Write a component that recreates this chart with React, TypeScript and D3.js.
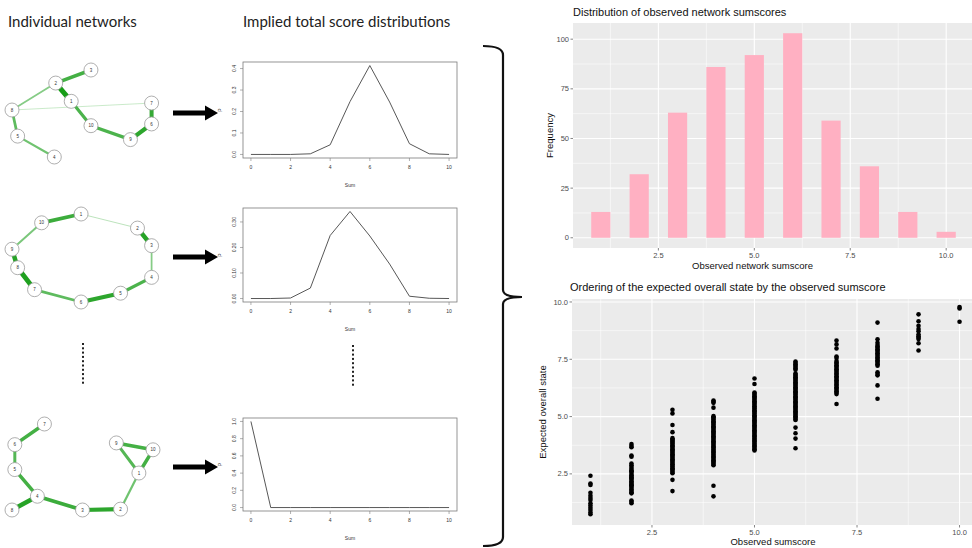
import React from 'react';
import * as d3 from 'd3';

// ---------- headings ----------
const headings = ['Individual networks', 'Implied total score distributions'];

// ---------- networks (layout units 0..100) ----------
const net1Nodes = [
  { id: 1, x: 42, y: 36 }, { id: 2, x: 31, y: 15 }, { id: 3, x: 56, y: 0 }, { id: 4, x: 30, y: 100 },
  { id: 5, x: 4, y: 76 }, { id: 6, x: 99, y: 62 }, { id: 7, x: 99, y: 38 }, { id: 8, x: 0, y: 46 },
  { id: 9, x: 84, y: 80 }, { id: 10, x: 56, y: 64 },
];
const net1Edges: [number, number, number][] = [
  [3, 2, 0.6], [2, 1, 0.9], [2, 8, 0.25], [8, 7, 0.06], [1, 10, 0.55],
  [10, 9, 0.55], [9, 6, 0.75], [6, 7, 0.7], [8, 5, 0.45], [5, 4, 0.35],
];
const net2Nodes = [
  { id: 1, x: 49, y: 0 }, { id: 2, x: 89, y: 16 }, { id: 3, x: 99, y: 36 }, { id: 4, x: 99, y: 72 },
  { id: 5, x: 77, y: 90 }, { id: 6, x: 49, y: 100 }, { id: 7, x: 16, y: 86 }, { id: 8, x: 4, y: 61 },
  { id: 9, x: 0, y: 40 }, { id: 10, x: 21, y: 10 },
];
const net2Edges: [number, number, number][] = [
  [1, 10, 0.65], [1, 2, 0.08], [2, 3, 0.8], [3, 4, 0.25], [4, 5, 0.55],
  [5, 6, 0.75], [6, 7, 0.45], [7, 8, 0.85], [8, 9, 0.8], [9, 10, 0.3],
];
const net3Nodes = [
  { id: 1, x: 90, y: 57 }, { id: 2, x: 77, y: 99 }, { id: 3, x: 50, y: 100 }, { id: 4, x: 18, y: 84 },
  { id: 5, x: 2, y: 53 }, { id: 6, x: 2, y: 24 }, { id: 7, x: 23, y: 0 }, { id: 8, x: 0, y: 100 },
  { id: 9, x: 74, y: 22 }, { id: 10, x: 100, y: 30 },
];
const net3Edges: [number, number, number][] = [
  [7, 6, 0.6], [6, 5, 0.5], [5, 4, 0.6], [4, 8, 0.8], [4, 3, 0.65],
  [3, 2, 0.75], [2, 1, 0.35], [1, 9, 0.5], [1, 10, 0.6], [9, 10, 0.6],
];

// ---------- implied total score distributions ----------
const sumValues = [0, 1, 2, 3, 4, 5, 6, 7, 8, 9, 10];
const dist1 = [0, 0, 0, 0.003, 0.045, 0.246, 0.414, 0.244, 0.05, 0.003, 0];
const dist2 = [0, 0, 0.002, 0.041, 0.247, 0.341, 0.245, 0.135, 0.009, 0.001, 0];
const dist3 = [1, 0, 0, 0, 0, 0, 0, 0, 0, 0, 0];
const sumTicks = [0, 2, 4, 6, 8, 10];
const dist1Ticks = [0, 0.1, 0.2, 0.3, 0.4];
const dist2Ticks = [0, 0.1, 0.2, 0.3];
const dist3Ticks = [0, 0.2, 0.4, 0.6, 0.8, 1.0];

// ---------- histogram ----------
const histTitle = 'Distribution of observed network sumscores';
const histX = [1, 2, 3, 4, 5, 6, 7, 8, 9, 10];
const histCounts = [13, 32, 63, 86, 92, 103, 59, 36, 13, 3];
const histYTicks = [0, 25, 50, 75, 100];
const ggXTicks = [2.5, 5.0, 7.5, 10.0];

// ---------- scatter ----------
const scatTitle = 'Ordering of the expected overall state by the observed sumscore';
const scatX = [1, 2, 3, 4, 5, 6, 7, 8, 9, 10];
const s1 = [2.42, 2.08, 2.02, 1.68, 1.55, 1.45, 1.36, 1.22, 1.12, 1.02, 0.92, 0.82, 0.74];
const s2 = [3.80, 3.72, 3.66, 3.30, 3.25, 2.95, 2.88, 2.80, 2.72, 2.65, 2.58, 2.50, 2.44, 2.38, 2.30, 2.24,
  2.18, 2.12, 2.06, 2.00, 1.94, 1.88, 1.82, 1.76, 1.70, 1.65, 1.34, 1.28, 1.22, 2.34, 2.62, 2.02];
const s3 = [5.30, 5.14, 4.63, 4.32, 4.06, 4.00, 3.95, 3.90, 3.85, 3.80, 3.74, 3.69, 3.63, 3.58, 3.52, 3.47,
  3.41, 3.36, 3.30, 3.25, 3.19, 3.14, 3.08, 3.03, 2.97, 2.92, 2.86, 2.81, 2.75, 2.70, 2.64, 2.58, 2.53, 2.24, 1.75];
const s4 = [5.70, 5.65, 5.60, 5.39, 5.02, 4.97, 4.91, 4.86, 4.80, 4.75, 4.69, 4.64, 4.58, 4.53, 4.47, 4.42,
  4.36, 4.31, 4.25, 4.20, 4.14, 4.09, 4.03, 3.98, 3.92, 3.87, 3.81, 3.76, 3.70, 3.65, 3.59, 3.54, 3.48, 3.43,
  3.37, 3.32, 3.26, 3.21, 3.15, 3.10, 3.04, 2.99, 2.93, 2.88, 1.98, 1.52];
const s5 = [6.66, 6.42, 6.05, 6.00, 5.94, 5.89, 5.83, 5.78, 5.72, 5.67, 5.61, 5.56, 5.50, 5.45, 5.39, 5.34,
  5.28, 5.23, 5.17, 5.12, 5.06, 5.01, 4.95, 4.90, 4.84, 4.79, 4.73, 4.68, 4.62, 4.57, 4.51, 4.46, 4.40, 4.35,
  4.29, 4.24, 4.18, 4.13, 4.07, 4.02, 3.96, 3.91, 3.85, 3.80, 3.74, 3.69, 3.63, 3.58, 3.52];
const s6 = [7.40, 7.34, 7.28, 7.22, 7.16, 7.10, 7.04, 6.88, 6.83, 6.77, 6.72, 6.66, 6.61, 6.55, 6.50, 6.44,
  6.39, 6.33, 6.28, 6.22, 6.17, 6.11, 6.06, 6.00, 5.95, 5.89, 5.84, 5.78, 5.73, 5.67, 5.62, 5.56, 5.51, 5.45,
  5.40, 5.34, 5.29, 5.23, 5.18, 5.12, 5.07, 5.01, 4.96, 4.90, 4.85, 4.52, 4.27, 4.04, 3.62];
const s7 = [8.32, 8.15, 7.97, 7.62, 7.56, 7.42, 7.36, 7.30, 7.24, 7.18, 7.12, 7.06, 7.00, 6.94, 6.88, 6.82,
  6.76, 6.70, 6.64, 6.58, 6.52, 6.46, 6.40, 6.34, 6.28, 6.22, 6.16, 6.10, 6.04, 5.98, 5.55];
const s8 = [9.10, 8.37, 8.22, 8.12, 8.06, 8.00, 7.94, 7.88, 7.82, 7.76, 7.70, 7.64, 7.58, 7.52, 7.46, 7.40,
  7.34, 7.28, 7.22, 6.93, 6.86, 6.80, 6.36, 5.78];
const s9 = [9.46, 9.16, 8.96, 8.82, 8.72, 8.58, 8.50, 8.44, 8.38, 8.20, 7.88];
const s10 = [9.78, 9.72, 9.14];
const scatY = [s1, s2, s3, s4, s5, s6, s7, s8, s9, s10];
const scatYTicks = [2.5, 5.0, 7.5, 10.0];

// ---------- layout ----------
const W = 972, H = 548;
const GG_FONT = '"Liberation Sans", Arial, sans-serif';
const netRows = [[70, 157], [214, 302], [424, 510]];
const plotRows = [[62, 158], [208, 302], [418, 511]];
const arrowY = [113, 257, 467];

type NodeT = { id: number; x: number; y: number };

function Network({ nodes, edges, top, bottom }: { nodes: NodeT[]; edges: [number, number, number][]; top: number; bottom: number }) {
  const x = d3.scaleLinear().domain([0, 100]).range([12, 153]);
  const y = d3.scaleLinear().domain([0, 100]).range([top, bottom]);
  const wScale = d3.scaleLinear().domain([0, 1]).range([0.5, 5.5]);
  const col = (w: number) => d3.interpolateRgb('#e4f5e4', '#0b970b')(Math.pow(w, 0.6));
  const byId = new Map(nodes.map((n) => [n.id, n]));
  return (
    <g>
      {edges.map(([a, b, w], i) => {
        const na = byId.get(a)!, nb = byId.get(b)!;
        return <line key={i} x1={x(na.x)} y1={y(na.y)} x2={x(nb.x)} y2={y(nb.y)} stroke={col(w)} strokeWidth={wScale(w)} strokeLinecap="round" />;
      })}
      {nodes.map((n) => (
        <g key={n.id}>
          <circle cx={x(n.x)} cy={y(n.y)} r={7} fill="#fff" stroke="#9a9a9a" strokeWidth={0.8} />
          <text x={x(n.x)} y={y(n.y) + 1.6} textAnchor="middle" fontSize={4.5} fontFamily={GG_FONT} fill="#333">{n.id}</text>
        </g>
      ))}
    </g>
  );
}

function LinePlot({ top, bottom, vals, ticks, fmt }: { top: number; bottom: number; vals: number[]; ticks: number[]; fmt: string }) {
  const left = 243, right = 457;
  const ymax = d3.max(vals)!;
  const pad = ymax * 0.04;
  const x = d3.scaleLinear().domain([-0.4, 10.4]).range([left, right]);
  const y = d3.scaleLinear().domain([-pad, ymax + pad]).range([bottom, top]);
  const line = d3.line<number>().x((_, i) => x(sumValues[i])).y((d) => y(d));
  const f = d3.format(fmt);
  return (
    <g fontFamily={GG_FONT} fill="#333">
      <rect x={left} y={top} width={right - left} height={bottom - top} fill="none" stroke="#7a7a7a" strokeWidth={0.8} />
      <path d={line(vals)!} fill="none" stroke="#444" strokeWidth={0.9} />
      {ticks.map((t) => (
        <g key={t}>
          <line x1={left} x2={left - 3} y1={y(t)} y2={y(t)} stroke="#7a7a7a" strokeWidth={0.6} />
          <text transform={`translate(${left - 7},${y(t)}) rotate(-90)`} textAnchor="middle" fontSize={5}>{f(t)}</text>
        </g>
      ))}
      {sumTicks.map((t) => (
        <g key={t}>
          <line x1={x(t)} x2={x(t)} y1={bottom} y2={bottom + 3} stroke="#7a7a7a" strokeWidth={0.6} />
          <text x={x(t)} y={bottom + 11} textAnchor="middle" fontSize={5}>{t}</text>
        </g>
      ))}
      <text transform={`translate(${left - 21},${(top + bottom) / 2}) rotate(-90)`} textAnchor="middle" fontSize={5}>P</text>
      <text x={(left + right) / 2} y={bottom + 29} textAnchor="middle" fontSize={5}>Sum</text>
    </g>
  );
}

function Arrow({ y }: { y: number }) {
  const p = d3.path();
  const x0 = 173, x1 = 205, x2 = 218, hs = 2.6, hh = 7.5;
  p.moveTo(x0, y - hs); p.lineTo(x1, y - hs); p.lineTo(x1, y - hh); p.lineTo(x2, y);
  p.lineTo(x1, y + hh); p.lineTo(x1, y + hs); p.lineTo(x0, y + hs); p.closePath();
  return <path d={p.toString()} fill="#000" />;
}

function Dots({ x, y0 }: { x: number; y0: number }) {
  const idx = d3.range(10);
  return <g>{idx.map((i) => <rect key={i} x={x - 1} y={y0 + i * 4.3} width={2} height={2} fill="#222" />)}</g>;
}

function Brace() {
  const lx = 483, bx = 503, tip = 522, top = 46, mid = 297, bot = 546;
  const p = d3.path();
  p.moveTo(lx, top);
  p.quadraticCurveTo(bx, top, bx, top + 9);
  p.lineTo(bx, mid - 7);
  p.quadraticCurveTo(bx, mid, tip, mid);
  p.quadraticCurveTo(bx, mid, bx, mid + 7);
  p.lineTo(bx, bot - 9);
  p.quadraticCurveTo(bx, bot, lx, bot);
  return <path d={p.toString()} fill="none" stroke="#111" strokeWidth={2.2} />;
}

function GGPanel({ left, right, top, bottom, x, y, xTicks, yTicks, yFmt }: any) {
  const xMinor = d3.pairs([x.domain()[0], ...xTicks, x.domain()[1]]).map(([a, b]) => (a + b) / 2);
  const yMinor = d3.pairs([y.domain()[0], ...yTicks, y.domain()[1]]).map(([a, b]) => (a + b) / 2);
  const step = xTicks[1] - xTicks[0];
  const xm = [xTicks[0] - step / 2, ...xTicks.map((t: number) => t + step / 2)].filter((v: number) => v > x.domain()[0] && v < x.domain()[1]);
  const ystep = yTicks[1] - yTicks[0];
  const ym = [yTicks[0] - ystep / 2, ...yTicks.map((t: number) => t + ystep / 2)].filter((v: number) => v > y.domain()[0] && v < y.domain()[1]);
  void xMinor; void yMinor;
  return (
    <g>
      <rect x={left} y={top} width={right - left} height={bottom - top} fill="#EBEBEB" />
      {xm.map((t: number) => <line key={'xm' + t} x1={x(t)} x2={x(t)} y1={top} y2={bottom} stroke="#fff" strokeWidth={0.55} />)}
      {ym.map((t: number) => <line key={'ym' + t} y1={y(t)} y2={y(t)} x1={left} x2={right} stroke="#fff" strokeWidth={0.55} />)}
      {xTicks.map((t: number) => <line key={'x' + t} x1={x(t)} x2={x(t)} y1={top} y2={bottom} stroke="#fff" strokeWidth={1.1} />)}
      {yTicks.map((t: number) => <line key={'y' + t} y1={y(t)} y2={y(t)} x1={left} x2={right} stroke="#fff" strokeWidth={1.1} />)}
      {xTicks.map((t: number) => (
        <g key={'xt' + t}>
          <line x1={x(t)} x2={x(t)} y1={bottom} y2={bottom + 2.5} stroke="#333" strokeWidth={0.6} />
          <text x={x(t)} y={bottom + 10} textAnchor="middle" fontSize={7.5} fill="#4D4D4D" fontFamily={GG_FONT}>{d3.format('.1f')(t)}</text>
        </g>
      ))}
      {yTicks.map((t: number) => (
        <g key={'yt' + t}>
          <line x1={left - 2.5} x2={left} y1={y(t)} y2={y(t)} stroke="#333" strokeWidth={0.6} />
          <text x={left - 4} y={y(t) + 2.6} textAnchor="end" fontSize={7.5} fill="#4D4D4D" fontFamily={GG_FONT}>{yFmt(t)}</text>
        </g>
      ))}
    </g>
  );
}

function Histogram() {
  const left = 573, right = 974, top = 23, bottom = 248;
  const x = d3.scaleLinear().domain([0.275, 10.725]).range([left, right]);
  const y = d3.scaleLinear().domain([-5.15, 108.15]).range([bottom, top]);
  const bw = x(0.5) - x(0);
  return (
    <g>
      <text x={left} y={16} fontSize={11} fontFamily={GG_FONT} fill="#111">{histTitle}</text>
      <GGPanel left={left} right={right} top={top} bottom={bottom} x={x} y={y} xTicks={ggXTicks} yTicks={histYTicks} yFmt={(t: number) => String(t)} />
      {histX.map((v, i) => (
        <rect key={v} x={x(v) - bw / 2} y={y(histCounts[i])} width={bw} height={y(0) - y(histCounts[i])} fill="#FFB0C2" />
      ))}
      <text x={(left + 972) / 2 - 20} y={269} textAnchor="middle" fontSize={9.5} fontFamily={GG_FONT} fill="#111">Observed network sumscore</text>
      <text transform={`translate(${553},${(top + bottom) / 2}) rotate(-90)`} textAnchor="middle" fontSize={9.5} fontFamily={GG_FONT} fill="#111">Frequency</text>
    </g>
  );
}

function Scatter() {
  const left = 572, right = 978, top = 299, bottom = 525;
  const x = d3.scaleLinear().domain([0.55, 10.45]).range([left, right]);
  const y = d3.scaleLinear().domain([0.27, 10.13]).range([bottom, top]);
  return (
    <g>
      <text x={left - 2} y={291} fontSize={11} fontFamily={GG_FONT} fill="#111">{scatTitle}</text>
      <GGPanel left={left} right={right} top={top} bottom={bottom} x={x} y={y} xTicks={ggXTicks} yTicks={scatYTicks} yFmt={(t: number) => d3.format('.1f')(t)} />
      {scatX.map((xv, i) => scatY[i].map((v, j) => (
        <circle key={xv + '-' + j} cx={x(xv)} cy={y(v)} r={2.3} fill="#000" />
      )))}
      <text x={773} y={545} textAnchor="middle" fontSize={9.5} fontFamily={GG_FONT} fill="#111">Observed sumscore</text>
      <text transform={`translate(${546},${(top + bottom) / 2}) rotate(-90)`} textAnchor="middle" fontSize={9.5} fontFamily={GG_FONT} fill="#111">Expected overall state</text>
    </g>
  );
}

export default function App() {
  const nets = [
    { nodes: net1Nodes, edges: net1Edges },
    { nodes: net2Nodes, edges: net2Edges },
    { nodes: net3Nodes, edges: net3Edges },
  ];
  const dists = [
    { vals: dist1, ticks: dist1Ticks, fmt: '.1f' },
    { vals: dist2, ticks: dist2Ticks, fmt: '.2f' },
    { vals: dist3, ticks: dist3Ticks, fmt: '.1f' },
  ];
  return (
    <svg width={W} height={H} viewBox={`0 0 ${W} ${H}`} style={{ position: 'absolute', left: 0, top: 0, background: '#fff' }}>
      <rect width={W} height={H} fill="#fff" />
      <text x={8} y={27} fontSize={15} fontFamily="Lato, 'Open Sans', sans-serif" fill="#222">{headings[0]}</text>
      <text x={243} y={27} fontSize={15} fontFamily="Lato, 'Open Sans', sans-serif" fill="#222">{headings[1]}</text>
      {nets.map((n, i) => (
        <Network key={i} nodes={n.nodes} edges={n.edges} top={netRows[i][0]} bottom={netRows[i][1]} />
      ))}
      {dists.map((d, i) => (
        <LinePlot key={i} top={plotRows[i][0]} bottom={plotRows[i][1]} vals={d.vals} ticks={d.ticks} fmt={d.fmt} />
      ))}
      {arrowY.map((y, i) => <Arrow key={i} y={y} />)}
      <Dots x={83} y0={343} />
      <Dots x={353} y0={345} />
      <Brace />
      <Histogram />
      <Scatter />
    </svg>
  );
}
